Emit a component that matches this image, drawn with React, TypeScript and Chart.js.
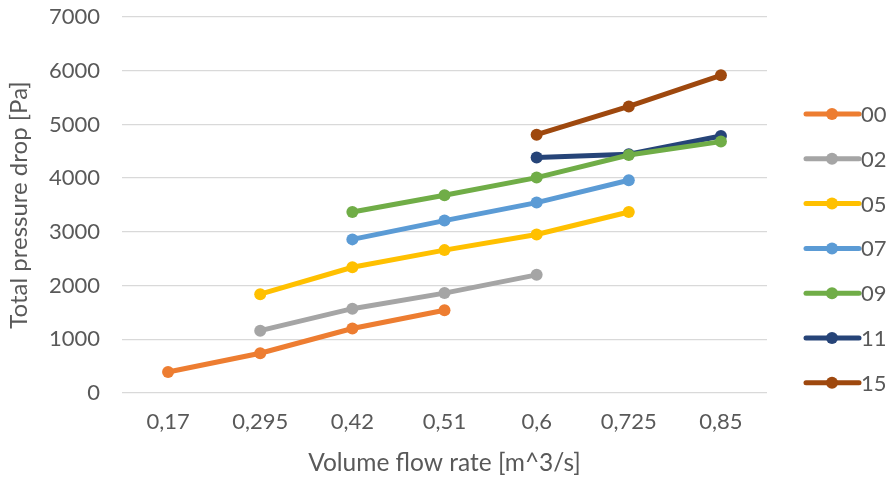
import React, { useEffect, useRef } from "react";
import { Chart, registerables } from "chart.js";

Chart.register(...registerables);

const categories = ["0,17", "0,295", "0,42", "0,51", "0,6", "0,725", "0,85"];
const seriesNames = ["00", "02", "05", "07", "09", "11", "15"];
const colors = ["#ED7D31", "#A5A5A5", "#FFC000", "#5B9BD5", "#70AD47", "#264478", "#9E480E"];
const s00 = [390, 740, 1200, 1540, null, null, null];
const s02 = [null, 1160, 1570, 1860, 2200, null, null];
const s05 = [null, 1840, 2340, 2660, 2950, 3370, null];
const s07 = [null, null, 2860, 3210, 3545, 3960, null];
const s09 = [null, null, 3370, 3680, 4010, 4430, 4680];
const s11 = [null, null, null, null, 4385, 4445, 4785];
const s15 = [null, null, null, null, 4810, 5335, 5915];
const allSeries = [s00, s02, s05, s07, s09, s11, s15];
const yTicks = [0, 1000, 2000, 3000, 4000, 5000, 6000, 7000];

const FONT = "Lato, 'Open Sans', sans-serif";
const TEXT = "#595959";

const legendPlugin = {
  id: "customLegend",
  afterDraw(chart: any) {
    const ctx = chart.ctx;
    ctx.save();
    chart.data.datasets.forEach((ds: any, i: number) => {
      const y = 114 + i * 44.8;
      ctx.strokeStyle = ds.borderColor;
      ctx.lineWidth = 5;
      ctx.lineCap = "round";
      ctx.beginPath();
      ctx.moveTo(806, y);
      ctx.lineTo(859, y);
      ctx.stroke();
      ctx.fillStyle = ds.borderColor;
      ctx.beginPath();
      ctx.arc(832, y, 6, 0, Math.PI * 2);
      ctx.fill();
      ctx.fillStyle = TEXT;
      ctx.font = `22px ${FONT}`;
      ctx.textAlign = "left";
      ctx.textBaseline = "middle";
      ctx.fillText(ds.label, 861, y + 1);
    });
    ctx.restore();
  },
};

export default function App() {
  const ref = useRef<HTMLCanvasElement | null>(null);
  useEffect(() => {
    if (!ref.current) return;
    const chart = new Chart(ref.current, {
      type: "line",
      data: {
        labels: categories,
        datasets: seriesNames.map((name, i) => ({
          label: name,
          data: allSeries[i],
          borderColor: colors[i],
          backgroundColor: colors[i],
          borderWidth: 5,
          pointRadius: 6,
          pointBorderWidth: 0,
          pointBackgroundColor: colors[i],
          spanGaps: false,
          tension: 0,
        })),
      },
      options: {
        animation: false,
        responsive: false,
        maintainAspectRatio: false,
        layout: { padding: { left: 0, right: 129, top: 17, bottom: 0 } },
        plugins: {
          legend: { display: false },
          tooltip: { enabled: false },
        },
        scales: {
          x: {
            offset: true,
            grid: { display: false, drawTicks: false },
            border: { display: false },
            ticks: { color: TEXT, font: { family: FONT, size: 22 }, padding: 16 },
            title: {
              display: true,
              text: "Volume flow rate [m^3/s]",
              color: TEXT,
              font: { family: FONT, size: 24.5 },
              padding: { top: 4, bottom: 0 },
            },
            afterFit: (s: any) => {
              s.height = 85;
              s.paddingLeft = 0;
              s.paddingRight = 0;
            },
          },
          y: {
            min: 0,
            max: 7000,
            afterBuildTicks: (s: any) => {
              s.ticks = yTicks.map((v) => ({ value: v }));
            },
            grid: { color: "#D9D9D9", lineWidth: 1.3, drawTicks: false },
            border: { display: false },
            ticks: {
              color: TEXT,
              font: { family: FONT, size: 22 },
              padding: 22,
              callback: (v: any) => String(v),
            },
            title: {
              display: true,
              text: "Total pressure drop [Pa]",
              color: TEXT,
              font: { family: FONT, size: 24 },
              padding: { top: 5, bottom: 0 },
            },
            afterFit: (s: any) => {
              s.width = 122;
              s.paddingTop = 0;
              s.paddingBottom = 0;
            },
          },
        },
      },
      plugins: [legendPlugin],
    });
    return () => chart.destroy();
  }, []);
  return (
    <div style={{ position: "absolute", left: 0, top: 0, width: 896, height: 478, background: "#fff" }}>
      <canvas ref={ref} width={896} height={478} style={{ width: 896, height: 478 }} />
    </div>
  );
}
